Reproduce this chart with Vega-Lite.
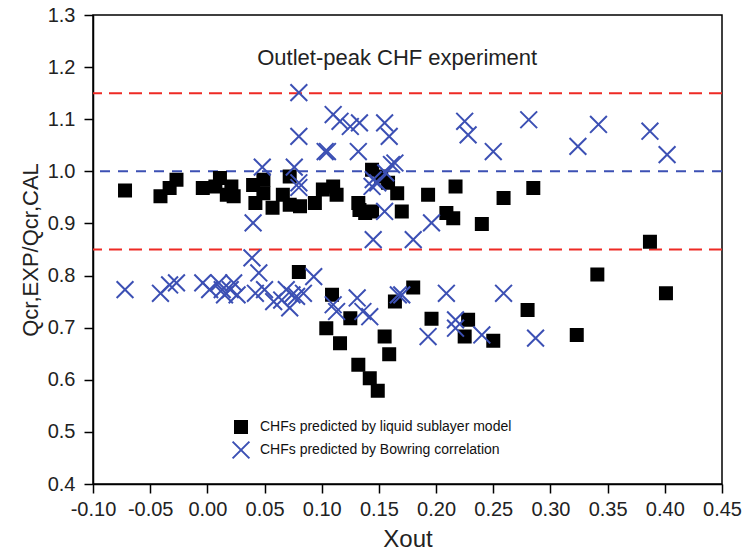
{
  "$schema": "https://vega.github.io/schema/vega-lite/v6.json",
  "width": 629,
  "height": 469,
  "autosize": "none",
  "padding": {"left": 93, "top": 15, "right": 25, "bottom": 68},
  "background": "white",
  "config": {
    "font": "Liberation Sans",
    "view": {"stroke": "black", "strokeWidth": 1.5},
    "axis": {
      "grid": false,
      "domainColor": "black",
      "domainWidth": 1.5,
      "tickColor": "black",
      "tickWidth": 1.5,
      "labelColor": "#222",
      "labelFontSize": 20,
      "labelFont": "Liberation Sans",
      "titleColor": "#222",
      "titleFont": "Liberation Sans",
      "titleFontWeight": "normal",
      "labelFlush": false,
      "labelOverlap": false
    },
    "axisY": {
      "title": "Qcr,EXP/Qcr,CAL",
      "titleFontSize": 22,
      "titlePadding": 5,
      "values": [0.4, 0.45, 0.5, 0.55, 0.6, 0.65, 0.7, 0.75, 0.8, 0.85, 0.9, 0.95, 1.0, 1.05, 1.1, 1.15, 1.2, 1.25, 1.3],
      "labelExpr": "abs(datum.value*10 - round(datum.value*10)) < 0.01 ? format(datum.value, '.1f') : ''",
      "tickSize": {"condition": {"test": "abs(datum.value*10 - round(datum.value*10)) < 0.01", "value": 9}, "value": 5},
      "labelPadding": 9
    },
    "axisX": {
      "title": "Xout",
      "titleFontSize": 24,
      "titlePadding": 8,
      "values": [-0.1, -0.075, -0.05, -0.025, 0, 0.025, 0.05, 0.075, 0.1, 0.125, 0.15, 0.175, 0.2, 0.225, 0.25, 0.275, 0.3, 0.325, 0.35, 0.375, 0.4, 0.425, 0.45],
      "labelExpr": "abs(datum.value*20 - round(datum.value*20)) < 0.01 ? ((datum.value < -0.001 ? '-' : '') + format(abs(datum.value), '.2f')) : ''",
      "tickSize": {"condition": {"test": "abs(datum.value*20 - round(datum.value*20)) < 0.01", "value": 9}, "value": 5},
      "labelPadding": 6
    },
    "legend": {
      "labelLimit": 0,
      "labelFontSize": 14,
      "labelColor": "#111",
      "labelFont": "Liberation Sans",
      "symbolSize": 144,
      "symbolStrokeWidth": 2,
      "labelOffset": 12,
      "rowPadding": 0
    }
  },
  "datasets": {
    "pts": [
      {"x": -0.072, "y": 0.963, "s": "CHFs predicted by liquid sublayer model"},
      {"x": -0.041, "y": 0.952, "s": "CHFs predicted by liquid sublayer model"},
      {"x": -0.033, "y": 0.968, "s": "CHFs predicted by liquid sublayer model"},
      {"x": -0.027, "y": 0.984, "s": "CHFs predicted by liquid sublayer model"},
      {"x": -0.004, "y": 0.968, "s": "CHFs predicted by liquid sublayer model"},
      {"x": 0.007, "y": 0.971, "s": "CHFs predicted by liquid sublayer model"},
      {"x": 0.011, "y": 0.987, "s": "CHFs predicted by liquid sublayer model"},
      {"x": 0.017, "y": 0.955, "s": "CHFs predicted by liquid sublayer model"},
      {"x": 0.023, "y": 0.952, "s": "CHFs predicted by liquid sublayer model"},
      {"x": 0.021, "y": 0.971, "s": "CHFs predicted by liquid sublayer model"},
      {"x": 0.040, "y": 0.974, "s": "CHFs predicted by liquid sublayer model"},
      {"x": 0.042, "y": 0.939, "s": "CHFs predicted by liquid sublayer model"},
      {"x": 0.049, "y": 0.984, "s": "CHFs predicted by liquid sublayer model"},
      {"x": 0.049, "y": 0.958, "s": "CHFs predicted by liquid sublayer model"},
      {"x": 0.057, "y": 0.930, "s": "CHFs predicted by liquid sublayer model"},
      {"x": 0.066, "y": 0.955, "s": "CHFs predicted by liquid sublayer model"},
      {"x": 0.072, "y": 0.990, "s": "CHFs predicted by liquid sublayer model"},
      {"x": 0.072, "y": 0.936, "s": "CHFs predicted by liquid sublayer model"},
      {"x": 0.081, "y": 0.933, "s": "CHFs predicted by liquid sublayer model"},
      {"x": 0.094, "y": 0.939, "s": "CHFs predicted by liquid sublayer model"},
      {"x": 0.101, "y": 0.965, "s": "CHFs predicted by liquid sublayer model"},
      {"x": 0.110, "y": 0.971, "s": "CHFs predicted by liquid sublayer model"},
      {"x": 0.113, "y": 0.955, "s": "CHFs predicted by liquid sublayer model"},
      {"x": 0.132, "y": 0.939, "s": "CHFs predicted by liquid sublayer model"},
      {"x": 0.133, "y": 0.926, "s": "CHFs predicted by liquid sublayer model"},
      {"x": 0.138, "y": 0.920, "s": "CHFs predicted by liquid sublayer model"},
      {"x": 0.144, "y": 0.923, "s": "CHFs predicted by liquid sublayer model"},
      {"x": 0.144, "y": 1.003, "s": "CHFs predicted by liquid sublayer model"},
      {"x": 0.152, "y": 0.990, "s": "CHFs predicted by liquid sublayer model"},
      {"x": 0.158, "y": 0.978, "s": "CHFs predicted by liquid sublayer model"},
      {"x": 0.166, "y": 0.958, "s": "CHFs predicted by liquid sublayer model"},
      {"x": 0.170, "y": 0.923, "s": "CHFs predicted by liquid sublayer model"},
      {"x": 0.193, "y": 0.955, "s": "CHFs predicted by liquid sublayer model"},
      {"x": 0.209, "y": 0.920, "s": "CHFs predicted by liquid sublayer model"},
      {"x": 0.215, "y": 0.910, "s": "CHFs predicted by liquid sublayer model"},
      {"x": 0.217, "y": 0.971, "s": "CHFs predicted by liquid sublayer model"},
      {"x": 0.240, "y": 0.899, "s": "CHFs predicted by liquid sublayer model"},
      {"x": 0.259, "y": 0.949, "s": "CHFs predicted by liquid sublayer model"},
      {"x": 0.285, "y": 0.968, "s": "CHFs predicted by liquid sublayer model"},
      {"x": 0.387, "y": 0.865, "s": "CHFs predicted by liquid sublayer model"},
      {"x": 0.080, "y": 0.807, "s": "CHFs predicted by liquid sublayer model"},
      {"x": 0.109, "y": 0.763, "s": "CHFs predicted by liquid sublayer model"},
      {"x": 0.104, "y": 0.699, "s": "CHFs predicted by liquid sublayer model"},
      {"x": 0.116, "y": 0.670, "s": "CHFs predicted by liquid sublayer model"},
      {"x": 0.125, "y": 0.718, "s": "CHFs predicted by liquid sublayer model"},
      {"x": 0.132, "y": 0.629, "s": "CHFs predicted by liquid sublayer model"},
      {"x": 0.142, "y": 0.603, "s": "CHFs predicted by liquid sublayer model"},
      {"x": 0.149, "y": 0.579, "s": "CHFs predicted by liquid sublayer model"},
      {"x": 0.155, "y": 0.683, "s": "CHFs predicted by liquid sublayer model"},
      {"x": 0.159, "y": 0.649, "s": "CHFs predicted by liquid sublayer model"},
      {"x": 0.164, "y": 0.750, "s": "CHFs predicted by liquid sublayer model"},
      {"x": 0.180, "y": 0.777, "s": "CHFs predicted by liquid sublayer model"},
      {"x": 0.196, "y": 0.717, "s": "CHFs predicted by liquid sublayer model"},
      {"x": 0.225, "y": 0.683, "s": "CHFs predicted by liquid sublayer model"},
      {"x": 0.228, "y": 0.715, "s": "CHFs predicted by liquid sublayer model"},
      {"x": 0.250, "y": 0.675, "s": "CHFs predicted by liquid sublayer model"},
      {"x": 0.280, "y": 0.734, "s": "CHFs predicted by liquid sublayer model"},
      {"x": 0.323, "y": 0.686, "s": "CHFs predicted by liquid sublayer model"},
      {"x": 0.341, "y": 0.802, "s": "CHFs predicted by liquid sublayer model"},
      {"x": 0.401, "y": 0.766, "s": "CHFs predicted by liquid sublayer model"},
      {"x": 0.080, "y": 1.151, "s": "CHFs predicted by Bowring correlation"},
      {"x": 0.080, "y": 1.067, "s": "CHFs predicted by Bowring correlation"},
      {"x": 0.048, "y": 1.008, "s": "CHFs predicted by Bowring correlation"},
      {"x": 0.076, "y": 1.008, "s": "CHFs predicted by Bowring correlation"},
      {"x": 0.080, "y": 0.978, "s": "CHFs predicted by Bowring correlation"},
      {"x": 0.080, "y": 0.969, "s": "CHFs predicted by Bowring correlation"},
      {"x": 0.040, "y": 0.901, "s": "CHFs predicted by Bowring correlation"},
      {"x": 0.039, "y": 0.834, "s": "CHFs predicted by Bowring correlation"},
      {"x": 0.110, "y": 1.109, "s": "CHFs predicted by Bowring correlation"},
      {"x": 0.116, "y": 1.096, "s": "CHFs predicted by Bowring correlation"},
      {"x": 0.103, "y": 1.038, "s": "CHFs predicted by Bowring correlation"},
      {"x": 0.105, "y": 1.038, "s": "CHFs predicted by Bowring correlation"},
      {"x": 0.125, "y": 1.086, "s": "CHFs predicted by Bowring correlation"},
      {"x": 0.133, "y": 1.093, "s": "CHFs predicted by Bowring correlation"},
      {"x": 0.132, "y": 1.038, "s": "CHFs predicted by Bowring correlation"},
      {"x": 0.155, "y": 1.093, "s": "CHFs predicted by Bowring correlation"},
      {"x": 0.159, "y": 1.067, "s": "CHFs predicted by Bowring correlation"},
      {"x": 0.161, "y": 1.013, "s": "CHFs predicted by Bowring correlation"},
      {"x": 0.164, "y": 1.016, "s": "CHFs predicted by Bowring correlation"},
      {"x": 0.156, "y": 0.997, "s": "CHFs predicted by Bowring correlation"},
      {"x": 0.145, "y": 0.984, "s": "CHFs predicted by Bowring correlation"},
      {"x": 0.149, "y": 0.978, "s": "CHFs predicted by Bowring correlation"},
      {"x": 0.144, "y": 0.971, "s": "CHFs predicted by Bowring correlation"},
      {"x": 0.155, "y": 0.923, "s": "CHFs predicted by Bowring correlation"},
      {"x": 0.145, "y": 0.869, "s": "CHFs predicted by Bowring correlation"},
      {"x": 0.180, "y": 0.869, "s": "CHFs predicted by Bowring correlation"},
      {"x": 0.196, "y": 0.901, "s": "CHFs predicted by Bowring correlation"},
      {"x": 0.225, "y": 1.096, "s": "CHFs predicted by Bowring correlation"},
      {"x": 0.228, "y": 1.070, "s": "CHFs predicted by Bowring correlation"},
      {"x": 0.250, "y": 1.038, "s": "CHFs predicted by Bowring correlation"},
      {"x": 0.281, "y": 1.099, "s": "CHFs predicted by Bowring correlation"},
      {"x": 0.324, "y": 1.048, "s": "CHFs predicted by Bowring correlation"},
      {"x": 0.342, "y": 1.090, "s": "CHFs predicted by Bowring correlation"},
      {"x": 0.387, "y": 1.077, "s": "CHFs predicted by Bowring correlation"},
      {"x": 0.402, "y": 1.032, "s": "CHFs predicted by Bowring correlation"},
      {"x": -0.072, "y": 0.773, "s": "CHFs predicted by Bowring correlation"},
      {"x": -0.041, "y": 0.766, "s": "CHFs predicted by Bowring correlation"},
      {"x": -0.033, "y": 0.782, "s": "CHFs predicted by Bowring correlation"},
      {"x": -0.027, "y": 0.786, "s": "CHFs predicted by Bowring correlation"},
      {"x": -0.004, "y": 0.786, "s": "CHFs predicted by Bowring correlation"},
      {"x": 0.002, "y": 0.773, "s": "CHFs predicted by Bowring correlation"},
      {"x": 0.010, "y": 0.786, "s": "CHFs predicted by Bowring correlation"},
      {"x": 0.013, "y": 0.773, "s": "CHFs predicted by Bowring correlation"},
      {"x": 0.015, "y": 0.763, "s": "CHFs predicted by Bowring correlation"},
      {"x": 0.020, "y": 0.773, "s": "CHFs predicted by Bowring correlation"},
      {"x": 0.023, "y": 0.786, "s": "CHFs predicted by Bowring correlation"},
      {"x": 0.026, "y": 0.763, "s": "CHFs predicted by Bowring correlation"},
      {"x": 0.045, "y": 0.805, "s": "CHFs predicted by Bowring correlation"},
      {"x": 0.042, "y": 0.766, "s": "CHFs predicted by Bowring correlation"},
      {"x": 0.050, "y": 0.773, "s": "CHFs predicted by Bowring correlation"},
      {"x": 0.058, "y": 0.750, "s": "CHFs predicted by Bowring correlation"},
      {"x": 0.065, "y": 0.753, "s": "CHFs predicted by Bowring correlation"},
      {"x": 0.069, "y": 0.773, "s": "CHFs predicted by Bowring correlation"},
      {"x": 0.072, "y": 0.738, "s": "CHFs predicted by Bowring correlation"},
      {"x": 0.074, "y": 0.763, "s": "CHFs predicted by Bowring correlation"},
      {"x": 0.078, "y": 0.760, "s": "CHFs predicted by Bowring correlation"},
      {"x": 0.084, "y": 0.766, "s": "CHFs predicted by Bowring correlation"},
      {"x": 0.093, "y": 0.798, "s": "CHFs predicted by Bowring correlation"},
      {"x": 0.110, "y": 0.744, "s": "CHFs predicted by Bowring correlation"},
      {"x": 0.113, "y": 0.731, "s": "CHFs predicted by Bowring correlation"},
      {"x": 0.131, "y": 0.757, "s": "CHFs predicted by Bowring correlation"},
      {"x": 0.136, "y": 0.731, "s": "CHFs predicted by Bowring correlation"},
      {"x": 0.142, "y": 0.721, "s": "CHFs predicted by Bowring correlation"},
      {"x": 0.167, "y": 0.763, "s": "CHFs predicted by Bowring correlation"},
      {"x": 0.170, "y": 0.763, "s": "CHFs predicted by Bowring correlation"},
      {"x": 0.209, "y": 0.766, "s": "CHFs predicted by Bowring correlation"},
      {"x": 0.217, "y": 0.715, "s": "CHFs predicted by Bowring correlation"},
      {"x": 0.217, "y": 0.699, "s": "CHFs predicted by Bowring correlation"},
      {"x": 0.193, "y": 0.683, "s": "CHFs predicted by Bowring correlation"},
      {"x": 0.240, "y": 0.686, "s": "CHFs predicted by Bowring correlation"},
      {"x": 0.259, "y": 0.766, "s": "CHFs predicted by Bowring correlation"},
      {"x": 0.287, "y": 0.680, "s": "CHFs predicted by Bowring correlation"}
    ],
    "redlines": [{"v": 1.15}, {"v": 0.85}],
    "bluelines": [{"v": 1.0}],
    "label": [{"x": 0.166, "y": 1.218, "t": "Outlet-peak CHF experiment"}]
  },
  "layer": [
    {
      "data": {"name": "redlines"},
      "mark": {"type": "rule", "color": "#ee2a24", "strokeWidth": 2, "strokeDash": [13, 7]},
      "encoding": {
        "y": {"field": "v", "type": "quantitative", "scale": {"domain": [0.4, 1.3], "nice": false, "zero": false}, "title": "Qcr,EXP/Qcr,CAL"}
      }
    },
    {
      "data": {"name": "bluelines"},
      "mark": {"type": "rule", "color": "#3c50b4", "strokeWidth": 2, "strokeDash": [10, 8]},
      "encoding": {
        "y": {"field": "v", "type": "quantitative", "title": "Qcr,EXP/Qcr,CAL"}
      }
    },
    {
      "data": {"name": "pts"},
      "mark": {"type": "point", "filled": true, "strokeWidth": 2, "opacity": 1, "size": 144},
      "encoding": {
        "x": {
          "field": "x", "type": "quantitative",
          "scale": {"domain": [-0.1, 0.45], "nice": false, "zero": false},
          "title": "Xout"
        },
        "y": {"field": "y", "type": "quantitative", "title": "Qcr,EXP/Qcr,CAL"},
        "shape": {
          "field": "s", "type": "nominal",
          "scale": {"domain": ["CHFs predicted by liquid sublayer model", "CHFs predicted by Bowring correlation"], "range": ["square", "M-1.4,-1.4L1.4,1.4M1.4,-1.4L-1.4,1.4"]},
          "legend": {"title": null, "orient": "none", "legendX": 141, "legendY": 405}
        },
        "fill": {
          "field": "s", "type": "nominal",
          "scale": {"domain": ["CHFs predicted by liquid sublayer model", "CHFs predicted by Bowring correlation"], "range": ["#000000", "#3c50b4"]},
          "legend": {"title": null, "orient": "none", "legendX": 141, "legendY": 405}
        },
        "stroke": {
          "field": "s", "type": "nominal",
          "scale": {"domain": ["CHFs predicted by liquid sublayer model", "CHFs predicted by Bowring correlation"], "range": ["#000000", "#3c50b4"]},
          "legend": {"title": null, "orient": "none", "legendX": 141, "legendY": 405}
        }
      }
    },
    {
      "data": {"name": "label"},
      "mark": {"type": "text", "fontSize": 22, "font": "Liberation Sans", "color": "#222", "align": "center", "baseline": "middle"},
      "encoding": {
        "x": {"field": "x", "type": "quantitative", "title": "Xout"},
        "y": {"field": "y", "type": "quantitative", "title": "Qcr,EXP/Qcr,CAL"},
        "text": {"field": "t"}
      }
    }
  ]
}
